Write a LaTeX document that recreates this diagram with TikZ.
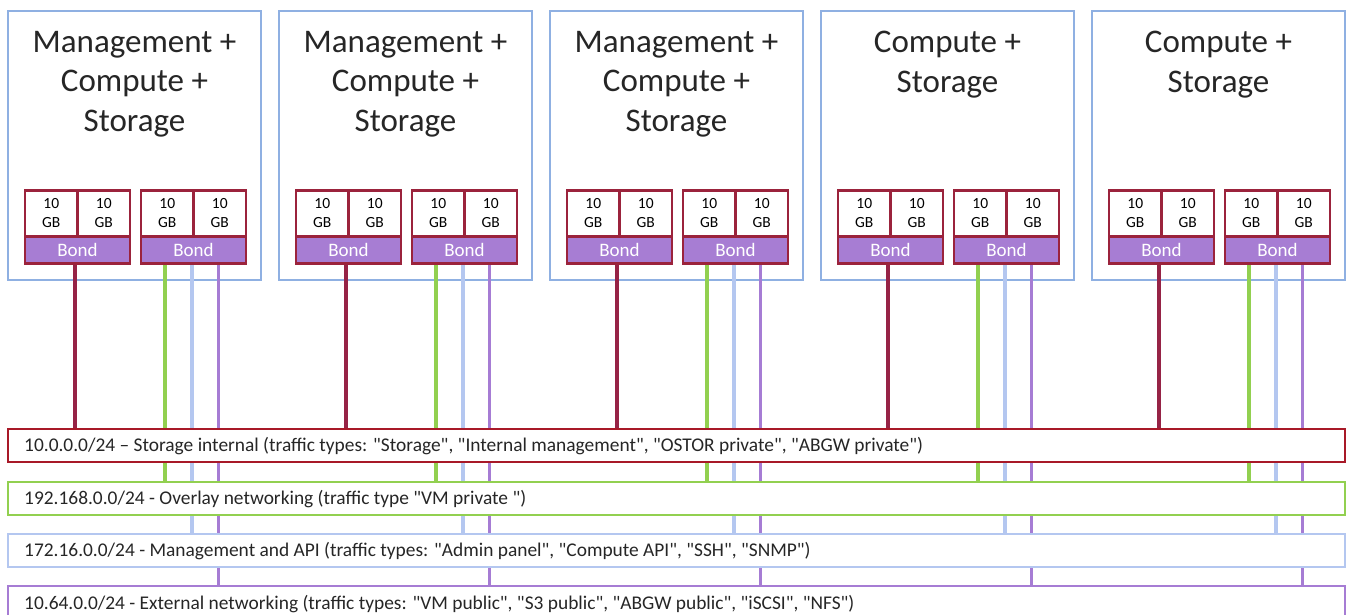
\documentclass[tikz,border=0pt]{standalone}
\usepackage{fontspec}
\setmainfont{Carlito}[Ligatures=TeXOff]
\definecolor{boxblue}{RGB}{143,176,226}
\definecolor{portred}{RGB}{155,35,60}
\definecolor{bondfill}{RGB}{167,125,211}
\definecolor{linered}{RGB}{150,35,70}
\definecolor{barred}{RGB}{168,25,40}
\definecolor{netgreen}{RGB}{146,208,80}
\definecolor{netblue}{RGB}{180,199,240}
\definecolor{netpurple}{RGB}{166,124,212}
\definecolor{txt}{RGB}{38,38,38}
\begin{document}
\begin{tikzpicture}[x=1pt,y=-1pt,
  srv/.style={draw=boxblue,line width=2.6pt,fill=white,minimum width=253pt,minimum height=269pt,anchor=north west,inner sep=0pt,outer sep=0pt},
  ttl/.style={text=txt,align=center,font=\fontsize{33}{39.5}\selectfont,anchor=north,inner sep=0pt},
  gbcell/.style={draw=portred,line width=2.4pt,fill=white,minimum width=52.5pt,minimum height=46pt,anchor=north west,inner sep=0pt,outer sep=0pt,align=center,text=black,font=\fontsize{15.5}{19}\selectfont},
  bondcell/.style={draw=portred,line width=2.8pt,fill=bondfill,minimum width=105pt,minimum height=27pt,anchor=north west,inner sep=0pt,outer sep=0pt,text=white,font=\fontsize{19}{22}\selectfont},
  bar/.style={line width=2.8pt,fill=white,minimum width=1337pt,minimum height=33pt,anchor=north west,inner sep=0pt,outer sep=0pt},
  bartext/.style={anchor=west,text=txt,font=\fontsize{19.4}{22}\selectfont,inner sep=0pt},
  net/.style={line width=3.4pt}
]
\useasboundingbox (0,0) rectangle (1346,614);
% servers
\foreach \i/\t in {0/{Management +\\Compute +\\Storage},1/{Management +\\Compute +\\Storage},2/{Management +\\Compute +\\Storage},3/{Compute +\\Storage},4/{Compute +\\Storage}}{
  \pgfmathsetmacro\L{8+271*\i}
  \node[srv] (srv\i) at (\L,11) {};
  \node[ttl] (ttl\i) at (\L+126.5,31) {\t};
  \node[gbcell] (pa\i) at (\L+17,190.5) {10\\GB};
  \node[gbcell] (pb\i) at (\L+69.5,190.5) {10\\GB};
  \node[gbcell] (pc\i) at (\L+133,190.5) {10\\GB};
  \node[gbcell] (pd\i) at (\L+185.5,190.5) {10\\GB};
  \node[bondcell] (ba\i) at (\L+17,236.5) {Bond};
  \node[bondcell] (bb\i) at (\L+133,236.5) {Bond};
  \coordinate (rt\i) at (\L+67,265);
  \coordinate (gt\i) at (\L+157,265);
  \coordinate (bt\i) at (\L+184,265);
  \coordinate (pt\i) at (\L+210.5,265);
  \coordinate (rb\i) at (\L+67,429);
  \coordinate (gb\i) at (\L+157,482);
  \coordinate (bb2\i) at (\L+184,534);
  \coordinate (pb2\i) at (\L+210.5,586);
}
% connectors (drawn before the bars so the bars cover them)
\foreach \i in {0,...,4}{
  \draw[net,linered] (rt\i) -- (rb\i);
  \draw[net,netgreen] (gt\i) -- (gb\i);
  \draw[net,netblue] (bt\i) -- (bb2\i);
  \draw[net,netpurple] (pt\i) -- (pb2\i);
}
% network bars
\node[bar,draw=barred] (barR) at (8,429) {};
\node[bar,draw=netgreen] (barG) at (8,482) {};
\node[bar,draw=netblue] (barB) at (8,534) {};
\node[bar,draw=netpurple,minimum height=40pt] (barP) at (8,586) {};
\node[bartext] (tR) at (24,446) {10.0.0.0/24 – Storage internal (traffic types: "Storage", "Internal management", "OSTOR private", "ABGW private")};
\node[bartext] (tG) at (24,499) {192.168.0.0/24 - Overlay networking (traffic type "VM private ")};
\node[bartext] (tB) at (24,551) {172.16.0.0/24 - Management and API (traffic types: "Admin panel", "Compute API", "SSH", "SNMP")};
\node[bartext] (tP) at (24,604) {10.64.0.0/24 - External networking (traffic types: "VM public", "S3 public", "ABGW public", "iSCSI", "NFS")};
\end{tikzpicture}
\end{document}
